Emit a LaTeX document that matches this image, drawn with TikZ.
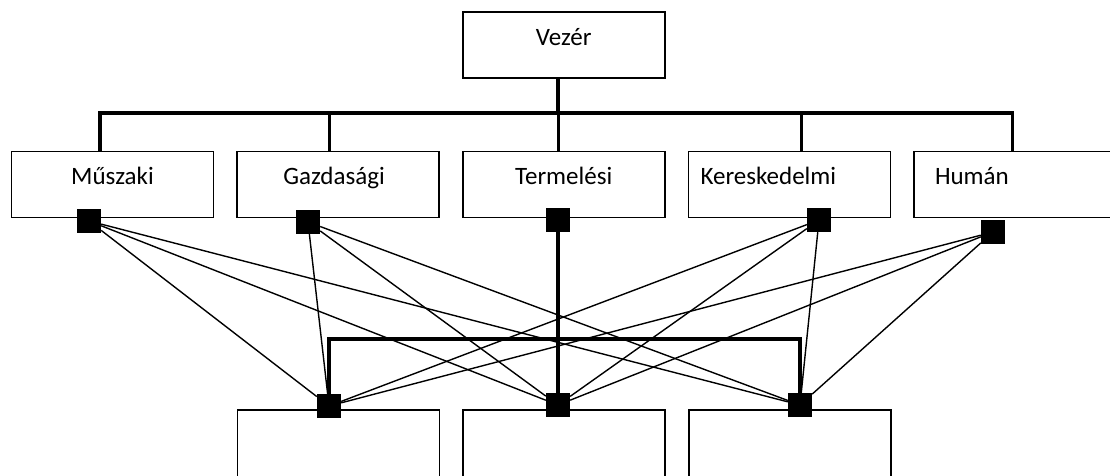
\documentclass[tikz,border=0pt]{standalone}
\usepackage{fontspec}
\setmainfont{Carlito}
\usetikzlibrary{positioning}

\begin{document}
\begin{tikzpicture}[x=1pt,y=-1pt,
    unit/.style={draw, line width=1.6pt, minimum width=202pt, minimum height=66pt, inner sep=0pt},
    caption/.style={font=\fontsize{25}{30}\selectfont, text height=16pt, text depth=5pt, inner sep=0pt, yshift=5.5pt},
    port/.style={fill=black, minimum size=24pt, inner sep=0pt},
    bus/.style={line width=3.2pt},
    link/.style={line width=1.4pt}]
\useasboundingbox (0,0) rectangle (1110,476);
\clip (0,0) rectangle (1110,476);

\node[unit, label={[caption]center:Műszaki}] (musz) at (112.5,184.5) {};
\node[unit, right=22pt of musz, label={[caption, xshift=-4pt]center:Gazdasági}] (gazd) {};
\node[unit, right=22pt of gazd, label={[caption]center:Termelési}] (term) {};
\node[unit, right=22pt of term, label={[caption, xshift=-21pt]center:Kereskedelmi}] (ker) {};
\node[unit, right=22pt of ker, label={[caption, xshift=-43pt]center:Humán}] (hum) {};
\node[unit, above=72pt of term, label={[caption, yshift=-0.5pt]center:Vezér}] (vez) {};

\node[unit, minimum height=100pt, anchor=north] (alsA) at (338.5,409) {};
\node[unit, minimum height=100pt, anchor=north] (alsB) at (564,409) {};
\node[unit, minimum height=100pt, anchor=north] (alsC) at (790,409) {};

\node[port] (pm) at (89,221) {};
\node[port] (pg) at (308,222) {};
\node[port] (pt) at (558,220) {};
\node[port] (pk) at (819,220) {};
\node[port] (ph) at (993,232) {};
\node[port] (qa) at (329,406) {};
\node[port] (qb) at (558,405) {};
\node[port] (qc) at (800,405) {};

\coordinate (hub) at (558,113);
\coordinate (low) at (558,339);

\draw[bus] (vez.south -| hub) -- (hub);
\draw[bus] ([xshift=-12.5pt]musz.north) |- (hub) -| ([xshift=-2.5pt]hum.north);
\foreach \b/\s in {gazd/-8.5, term/-5, ker/12}
  \draw[bus] ([xshift=\s pt]\b.north) -- ++(0,-38);

\draw[bus] (qa) |- (low) -| (qc);
\draw[bus] (pt) -- (qb);

\foreach \a in {pm,pg,pk,ph}
  \foreach \b in {qa,qb,qc}
    \draw[link] (\a) -- (\b);
\end{tikzpicture}
\end{document}
